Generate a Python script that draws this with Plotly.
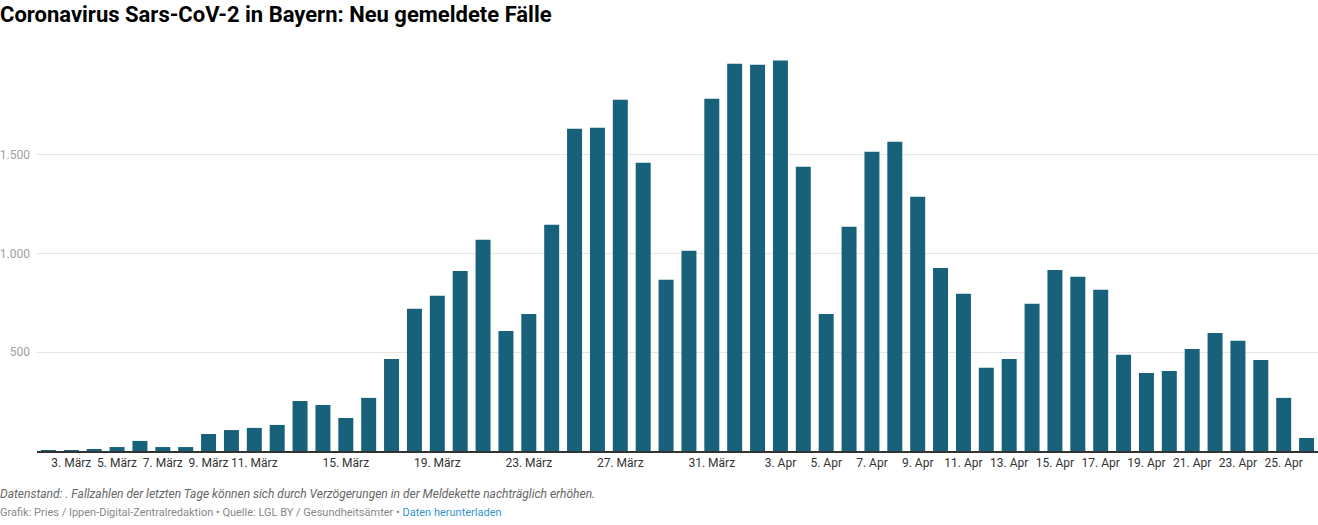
import plotly.graph_objects as go

dates = [
    "2. März", "3. März", "4. März", "5. März", "6. März", "7. März", "8. März", "9. März",
    "10. März", "11. März", "12. März", "13. März", "14. März", "15. März", "16. März",
    "17. März", "18. März", "19. März", "20. März", "21. März", "22. März", "23. März",
    "24. März", "25. März", "26. März", "27. März", "28. März", "29. März", "30. März",
    "31. März", "1. Apr", "2. Apr", "3. Apr", "4. Apr", "5. Apr", "6. Apr", "7. Apr",
    "8. Apr", "9. Apr", "10. Apr", "11. Apr", "12. Apr", "13. Apr", "14. Apr", "15. Apr",
    "16. Apr", "17. Apr", "18. Apr", "19. Apr", "20. Apr", "21. Apr", "22. Apr", "23. Apr",
    "24. Apr", "25. Apr", "26. Apr",
]

new_cases = [
    5, 5, 10, 20, 51, 20, 20, 86,
    106, 117, 132, 253, 233, 167, 269,
    466, 720, 786, 912, 1069, 608, 694,
    1145, 1632, 1637, 1779, 1460, 867, 1014,
    1784, 1961, 1956, 1977, 1439, 694, 1135, 1515,
    1566, 1287, 927, 796, 421, 466, 745, 917,
    882, 816, 487, 395, 405, 517, 598, 558,
    461, 269, 66,
]

x_tick_labels = [
    "3. März", "5. März", "7. März", "9. März", "11. März", "15. März", "19. März",
    "23. März", "27. März", "31. März", "3. Apr", "5. Apr", "7. Apr", "9. Apr",
    "11. Apr", "13. Apr", "15. Apr", "17. Apr", "19. Apr", "21. Apr", "23. Apr", "25. Apr",
]

y_tick_values = [500, 1000, 1500]

title_text = "Coronavirus Sars-CoV-2 in Bayern: Neu gemeldete Fälle"
note_text = ("Datenstand: . Fallzahlen der letzten Tage können sich durch Verzögerungen "
             "in der Meldekette nachträglich erhöhen.")
source_text = ("Grafik: Pries / Ippen-Digital-Zentralredaktion • Quelle: LGL BY / Gesundheitsämter • "
               "<span style='color:#3394cf'>Daten herunterladen</span>")

W, H = 1318, 525
ml, mr, mt, mb = 37, 0, 56, 74
plot_w = W - ml - mr
plot_h = H - mt - mb

fig = go.Figure(
    go.Bar(
        x=dates,
        y=new_cases,
        marker=dict(color="#17617B", line=dict(width=0)),
        hoverinfo="x+y",
    )
)

fig.update_layout(
    width=W,
    height=H,
    margin=dict(l=ml, r=mr, t=mt, b=mb),
    paper_bgcolor="white",
    plot_bgcolor="white",
    bargap=0.345,
    separators=",.",
    showlegend=False,
    font=dict(family="Roboto", color="#333333"),
    title=dict(
        text=title_text,
        xref="container", x=0, xanchor="left",
        yref="container", y=1 - 14 / H, yanchor="middle",
        pad=dict(l=0, r=0, t=0, b=0),
        font=dict(family="Roboto", size=22, color="#000000", weight="bold"),
    ),
    xaxis=dict(
        type="category",
        tickmode="array",
        tickvals=x_tick_labels,
        ticktext=x_tick_labels,
        showgrid=False,
        showline=True,
        linecolor="#333333",
        linewidth=2,
        ticks="",
        tickfont=dict(family="Roboto", size=12, color="#333333"),
        range=[-0.5, len(dates) - 0.5],
        fixedrange=True,
    ),
    yaxis=dict(
        range=[0, 2000],
        tickmode="array",
        tickvals=y_tick_values,
        tickformat=",d",
        showgrid=True,
        gridcolor="#e6e6e6",
        gridwidth=1,
        zeroline=False,
        showline=False,
        ticks="",
        ticklabelstandoff=6,
        tickfont=dict(family="Roboto", size=12, color="#a0a0a0"),
        fixedrange=True,
    ),
    annotations=[
        dict(
            text=note_text,
            xref="paper", yref="paper",
            x=-(ml + 2) / plot_w, y=(451 - 494) / plot_h,
            xanchor="left", yanchor="middle", showarrow=False,
            font=dict(family="Roboto", size=12, color="#666666", style="italic"),
        ),
        dict(
            text=source_text,
            xref="paper", yref="paper",
            x=-(ml + 2) / plot_w, y=(451 - 512) / plot_h,
            xanchor="left", yanchor="middle", showarrow=False,
            font=dict(family="Roboto", size=11, color="#888888"),
        ),
    ],
)

fig.write_html(
    "out.html",
    config={"displayModeBar": False},
    post_script="document.body.style.margin='0';document.body.style.overflow='hidden';",
)
